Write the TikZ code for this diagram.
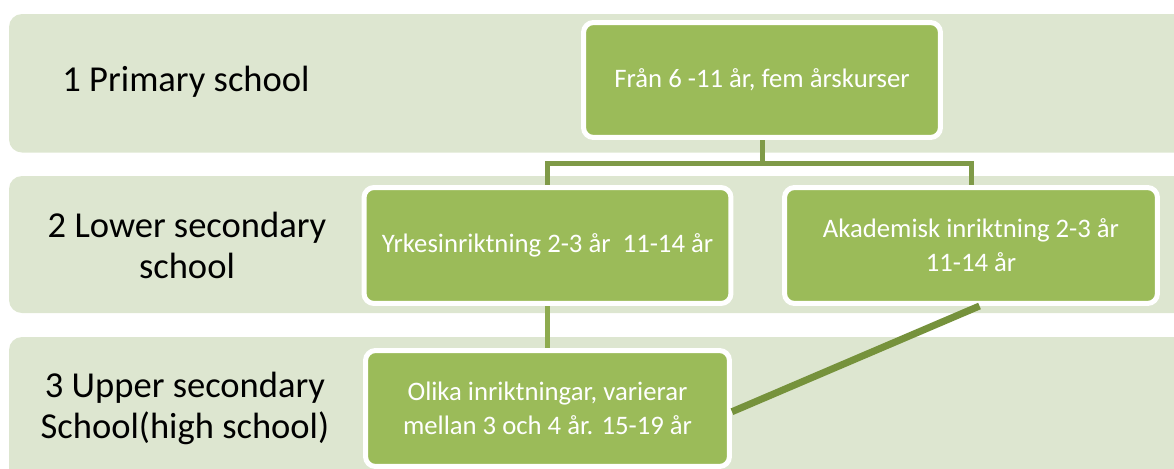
\documentclass[tikz,border=0pt]{standalone}
\usepackage{fontspec}
\setmainfont{Carlito}
\usepackage{xcolor}
\usetikzlibrary{positioning,backgrounds}
\definecolor{bandgreen}{HTML}{DDE6D0}
\definecolor{boxgreen}{HTML}{9BBB59}
\definecolor{linegreen}{HTML}{7F9A48}
\definecolor{darkgreen}{HTML}{76923C}
\definecolor{palegreen}{HTML}{8EAB4F}

\begin{document}
\begin{tikzpicture}[x=0.02cm,y=-0.02cm,
  bandfill/.style={fill=bandgreen,rounded corners=0.26cm},
  levelname/.style={font=\fontsize{20.8}{23.3}\selectfont,align=center,text=black},
  stagebox/.style={fill=boxgreen,draw=white,line width=0.1cm,rounded corners=0.2cm,text=white,align=center,font=\fontsize{15.2}{19.3}\selectfont,minimum height=2.32cm,inner sep=0pt},
  joinline/.style={draw=linegreen,line width=0.1cm},
]
\useasboundingbox (0,0) rectangle (1174,468);

\node[stagebox,minimum width=7.14cm,minimum height=2.30cm] (fran) at (762,80) {Från 6 -11 år, fem årskurser};
\node[stagebox,minimum width=7.34cm] (yrkes) at (547.5,245.5) {Yrkesinriktning 2-3 år\ \ 11-14 år};
\node[stagebox,minimum width=7.46cm] (akad) at (971,245.5) {Akademisk inriktning 2-3 år\\11-14 år};
\node[stagebox,minimum width=7.28cm] (olika) at (547.5,408.5) {Olika inriktningar, varierar\\mellan 3 och 4 år. 15-19 år};

\node[levelname] (primary) at (186,82) {1 Primary school};
\node[levelname] (lower) at (187,245) {2 Lower secondary\\school};
\node[levelname] (upper) at (185,408) {3 Upper secondary\\School(high school)};

\begin{scope}[on background layer]
\clip (0,0) rectangle (1174,468);
\fill[bandfill] (9,14) rectangle (1200,152.5);
\fill[bandfill] (9,176) rectangle (1200,313);
\fill[bandfill] (9,337) rectangle (1200,500);
\coordinate (split) at (762,163.5);
\draw[joinline] (fran.south) -- (split) -| (yrkes.north);
\draw[joinline] (split) -| (akad.north);
\draw[joinline,draw=palegreen] (yrkes.south) -- (olika.north);
\end{scope}
\draw[joinline,draw=darkgreen,line width=0.14cm] (akad.-82) -- (olika.-1.5);
\end{tikzpicture}
\end{document}
